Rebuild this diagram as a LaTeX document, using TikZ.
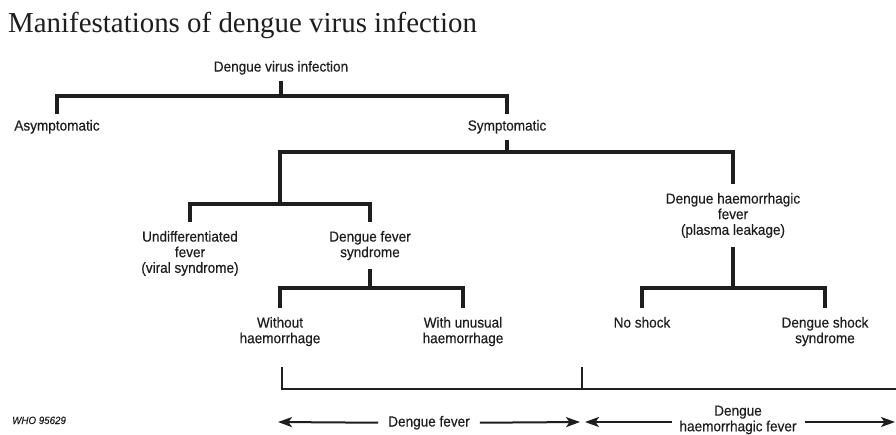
\documentclass[tikz,border=0pt]{standalone}
\usepackage{fontspec}
\setmainfont{Liberation Serif}
\newfontfamily\lab{Liberation Sans}[FakeStretch=0.93,FakeBold=0.35]
\usetikzlibrary{arrows.meta}
\definecolor{ink}{HTML}{1E1E1E}
\begin{document}
\begin{tikzpicture}[x=1pt,y=-1pt,
  lbl/.style={font=\lab\fontsize{14.6}{15.6}\selectfont, text=ink, align=center,
              inner sep=0pt, outer sep=9pt, anchor=north},
  lbltop/.style={lbl, outer sep=6pt},
  tree/.style={line width=3.1pt, draw=ink, line join=miter},
  brk/.style={line width=2.6pt, draw=ink, line join=miter},
  arr/.style={line width=2pt, draw=ink, -{Stealth[length=14pt,width=10pt,inset=3.5pt]}}]
\fill[white] (0,0) rectangle (896,434);
\useasboundingbox (0,0) rectangle (896,434);

% title and credit
\node[font=\fontsize{28.9}{30}\selectfont, text=ink, anchor=base west, inner sep=0pt] (title) at (8,32) {Manifestations of dengue virus infection};
\node[font=\lab\itshape\fontsize{10.5}{12}\selectfont, text=ink, anchor=base west, inner sep=0pt] (who) at (12,424) {WHO 95629};

% tree nodes
\node[lbltop] (root) at (281,55) {Dengue virus infection};
\node[lbltop] (asym) at (57,114) {Asymptomatic};
\node[lbltop] (symp) at (507,114) {Symptomatic};
\node[lbl] (undiff) at (190,222) {Undifferentiated\\fever\\(viral syndrome)};
\node[lbl] (dfs) at (370,222) {Dengue fever\\syndrome};
\node[lbl] (dhf) at (733,184) {Dengue haemorrhagic\\fever\\(plasma leakage)};
\node[lbl] (without) at (280,308) {Without\\haemorrhage};
\node[lbl] (withu) at (463,308) {With unusual\\haemorrhage};
\node[lbl] (noshock) at (642,308) {No shock};
\node[lbl] (dss) at (825,308) {Dengue shock\\syndrome};

% junction levels
\coordinate (h1) at (0,96);
\coordinate (h2) at (0,152);
\coordinate (fork) at (280,204);
\coordinate (h4) at (0,288);

% connectors
\draw[tree] (root.south) -- (root.south |- h1);
\draw[tree] (asym.north) |- (symp.north |- h1) -- (symp.north);
\draw[tree] (symp.south) -- (symp.south |- h2);
\draw[tree] (fork) |- (dhf.north |- h2) -- (dhf.north);
\draw[tree] (undiff.north) |- (fork) -| (dfs.north);
\draw[tree] (dfs.south) -- (dfs.south |- h4);
\draw[tree] (without.north) |- (withu.north |- h4) -- (withu.north);
\draw[tree] (dhf.south) -- (dhf.south |- h4);
\draw[tree] (noshock.north) |- (dss.north |- h4) -- (dss.north);

% bottom bracket
\coordinate (b1) at (282,367);
\coordinate (b2) at (582,367);
\coordinate (hb) at (0,389);
\coordinate (bR) at (897,389);
\draw[brk] (b1) -- (b1 |- hb) -- (bR);
\draw[brk] (b2) -- (b2 |- hb);

% range arrows
\node[lbl, anchor=base, outer sep=10pt] (df) at (429,426.5) {Dengue fever};
\node[lbl, outer sep=8pt] (dhfb) at (738,397.6) {Dengue\\haemorrhagic fever};
\coordinate (tipA) at (278,422);
\coordinate (tipB) at (580,422);
\coordinate (tipC) at (585,422);
\coordinate (tipD) at (895,422);
\draw[arr] (df.west) -- (tipA);
\draw[arr] (df.east) -- (tipB);
\draw[arr] (dhfb.west |- tipC) -- (tipC);
\draw[arr] (dhfb.east |- tipD) -- (tipD);
\end{tikzpicture}
\end{document}
